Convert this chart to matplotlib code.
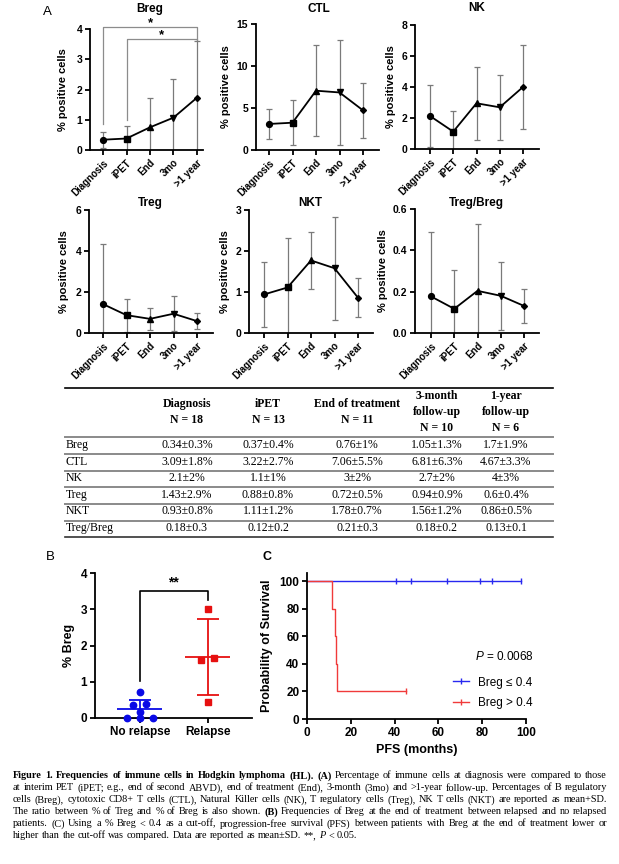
import numpy as np
import matplotlib
matplotlib.use('Agg')
import matplotlib.pyplot as plt
from matplotlib.lines import Line2D

plt.rcParams['font.family'] = ['Liberation Sans', 'DejaVu Sans']
plt.rcParams['mathtext.fontset'] = 'custom'
plt.rcParams['mathtext.it'] = 'Liberation Sans:italic'
plt.rcParams['mathtext.rm'] = 'Liberation Sans'

# ---------------- data ----------------
timepoints = ['Diagnosis', 'iPET', 'End', '3mo', '>1 year']

breg_mean = [0.34, 0.38, 0.75, 1.07, 1.73]
breg_sd = [0.26, 0.42, 0.98, 1.28, 1.88]
ctl_mean = [3.10, 3.25, 7.06, 6.85, 4.72]
ctl_sd = [1.82, 2.67, 5.45, 6.24, 3.30]
nk_mean = [2.13, 1.12, 2.95, 2.69, 4.00]
nk_sd = [1.97, 1.30, 2.35, 2.08, 2.74]
treg_mean = [1.41, 0.87, 0.69, 0.94, 0.58]
treg_sd = [2.92, 0.81, 0.53, 0.86, 0.39]
nkt_mean = [0.94, 1.11, 1.77, 1.58, 0.86]
nkt_sd = [0.80, 1.21, 0.70, 1.26, 0.48]
tb_mean = [0.177, 0.117, 0.204, 0.180, 0.131]
tb_sd = [0.31, 0.186, 0.323, 0.165, 0.081]

# table
col_headers = ['Diagnosis\nN = 18', 'iPET\nN = 13', 'End of treatment\nN = 11',
               '3-month\nfollow-up\nN = 10', '1-year\nfollow-up\nN = 6']
row_labels = ['Breg', 'CTL', 'NK', 'Treg', 'NKT', 'Treg/Breg']
table_cells = [
    ['0.34±0.3%', '0.37±0.4%', '0.76±1%', '1.05±1.3%', '1.7±1.9%'],
    ['3.09±1.8%', '3.22±2.7%', '7.06±5.5%', '6.81±6.3%', '4.67±3.3%'],
    ['2.1±2%', '1.1±1%', '3±2%', '2.7±2%', '4±3%'],
    ['1.43±2.9%', '0.88±0.8%', '0.72±0.5%', '0.94±0.9%', '0.6±0.4%'],
    ['0.93±0.8%', '1.11±1.2%', '1.78±0.7%', '1.56±1.2%', '0.86±0.5%'],
    ['0.18±0.3', '0.12±0.2', '0.21±0.3', '0.18±0.2', '0.13±0.1'],
]

# panel B
groups = ['No relapse', 'Relapse']
breg_norelapse = [0.72, 0.36, 0.40, 0.17, 0.0, 0.0, 0.0]
breg_relapse = [3.02, 1.66, 1.61, 0.43]

# panel C (PFS, months)
low_events = []
low_censored = [40.6, 47.5, 64.0, 79.1, 84.5, 97.9]
high_events = [11.3, 12.6, 13.1, 13.8]
high_censored = [45.2]
km_labels = ['Breg ≤ 0.4', 'Breg > 0.4']
p_value = '0.0068'

# ---------------- figure ----------------
W, H = 619, 864
fig = plt.figure(figsize=(W / 100, H / 100), dpi=100)


def fx(x):
    return x / W


def fy(y):
    return 1 - y / H


def px_axes(l, t, r, b):
    return fig.add_axes([l / W, 1 - b / H, (r - l) / W, (b - t) / H])


def style_axes(ax, size=7.5, lw=1.3):
    for s in ['top', 'right']:
        ax.spines[s].set_visible(False)
    for s in ['left', 'bottom']:
        ax.spines[s].set_linewidth(lw)
    ax.tick_params(width=lw, length=3.5, labelsize=size, pad=2)
    for lab in ax.get_xticklabels() + ax.get_yticklabels():
        lab.set_fontweight('bold')


# ---- panel A: line plots ----
a_data = [('Breg', breg_mean, breg_sd, [0, 1, 2, 3, 4]),
          ('CTL', ctl_mean, ctl_sd, [0, 5, 10, 15]),
          ('NK', nk_mean, nk_sd, [0, 2, 4, 6, 8]),
          ('Treg', treg_mean, treg_sd, [0, 2, 4, 6]),
          ('NKT', nkt_mean, nkt_sd, [0, 1, 2, 3]),
          ('Treg/Breg', tb_mean, tb_sd, [0.0, 0.2, 0.4, 0.6])]
# rect (l, t, r, b), first tick px, tick spacing, title pos, ylabel x
a_layout = [((90, 29, 203, 150), 103, 23.5, (150, 9), 63),
            ((256, 24, 379, 150), 269, 23.5, (319, 9), 226),
            ((415, 25, 539, 149), 430, 23.25, (477, 8), 391),
            ((89, 210, 213, 333), 103, 23.5, (150, 203), 64),
            ((249, 210, 373, 333), 264, 23.5, (310, 203), 225),
            ((415, 209, 539, 333), 431, 23.25, (476, 203), 383)]
markers = ['o', 's', '^', 'v', 'D']
msizes = [4.2, 4.2, 3.8, 3.8, 3.0]

a_axes = []
for (name, mean, sd, yt), (rect, t0, step, tpos, ylx) in zip(a_data, a_layout):
    l, t, r, b = rect
    ax = px_axes(*rect)
    x = np.arange(len(timepoints))
    ax.errorbar(x, mean, yerr=sd, fmt='none', ecolor='#7a7a7a',
                elinewidth=0.9, capsize=2.2, capthick=0.9)
    ax.plot(x, mean, color='black', lw=1.3)
    for xi, m, mk, ms in zip(x, mean, markers, msizes):
        ax.plot(xi, m, marker=mk, color='black', ms=ms, clip_on=False)
    ax.set_xlim((l - t0) / step, (r - t0) / step)
    ax.set_ylim(0, yt[-1])
    ax.set_yticks(yt)
    if name == 'Treg/Breg':
        ax.set_yticklabels(['%.1f' % v for v in yt])
    ax.set_xticks(x)
    ax.set_xticklabels(timepoints, rotation=45, ha='right',
                       rotation_mode='anchor')
    style_axes(ax)
    for lab in ax.get_xticklabels():
        lab.set_fontsize(7)
    ax.set_ylabel('% positive cells', fontsize=8, fontweight='bold')
    ax.yaxis.set_label_coords((ylx + 5 - l) / (r - l), 0.5)
    fig.text(fx(tpos[0]), fy(tpos[1]), name, ha='center', va='center',
             fontsize=8.5, fontweight='bold')
    a_axes.append(ax)

# significance brackets on Breg
ax = a_axes[0]
breg_sig = [(0, 4, 4.08, 0.85, 3.65), (1, 4, 3.68, 1.0, 3.62)]
for x1, x2, top, yl, yr in breg_sig:
    ax.plot([x1, x1, x2, x2], [yl, top, top, yr], color='#8c8c8c', lw=0.9,
            clip_on=False)
    ax.text((x1 + x2) / 2, top + 0.02, '*', ha='center', va='baseline',
            fontsize=9.5, fontweight='bold', clip_on=False)

fig.text(fx(47), fy(12), 'A', fontsize=9.5, va='center', ha='center')

# ---- table ----
serif = ['Liberation Serif', 'DejaVu Serif']
tab_l, tab_r = 65, 553
col_cx = [187, 268, 357, 437, 506]
row_cy = [445, 462, 478, 495, 511, 528]
for cx, hdr in zip(col_cx, col_headers):
    fig.text(fx(cx), fy(412), hdr, ha='center', va='center', family=serif,
             fontsize=8.5, fontweight='bold', linespacing=1.42,
             multialignment='center')
for cy, lab, cells in zip(row_cy, row_labels, table_cells):
    fig.text(fx(tab_l + 1), fy(cy), lab, ha='left', va='center',
             family=serif, fontsize=8.5)
    for cx, c in zip(col_cx, cells):
        fig.text(fx(cx), fy(cy), c, ha='center', va='center', family=serif,
                 fontsize=8.5)
for yy, col, lw in [(388, 'black', 1.2), (437, '#8a8a8a', 1.4),
                    (454, '#8a8a8a', 1.4), (471, '#8a8a8a', 1.4),
                    (487, '#8a8a8a', 1.4), (504, '#8a8a8a', 1.4),
                    (521, '#8a8a8a', 1.4), (537, '#333333', 1.2)]:
    fig.add_artist(Line2D([fx(tab_l), fx(tab_r)], [fy(yy), fy(yy)],
                          color=col, lw=lw))

# ---- panel B ----
blue = '#0a0ae6'
red = '#e61010'


def swarm(vals, tol=0.1, step=0.19):
    vals = np.asarray(vals, dtype=float)
    order = np.argsort(vals, kind='stable')
    offs = np.zeros(len(vals))
    grp = [order[0]]
    for a, bi in zip(order[:-1], order[1:]):
        if vals[bi] - vals[a] <= tol:
            grp.append(bi)
        else:
            n = len(grp)
            offs[grp] = (np.arange(n) - (n - 1) / 2) * step
            grp = [bi]
    n = len(grp)
    offs[grp] = (np.arange(n) - (n - 1) / 2) * step
    return offs


axb = px_axes(95, 573, 252, 718)
for i, (vals, col, mk) in enumerate([(breg_norelapse, blue, 'o'),
                                     (breg_relapse, red, 's')]):
    offs = swarm(vals)
    axb.plot(i + offs, vals, ls='none', marker=mk, ms=4.6, color=col,
             clip_on=False, zorder=3)
    m = np.mean(vals)
    s = np.std(vals, ddof=1)
    axb.hlines(m, i - 0.33, i + 0.33, color=col, lw=1.3)
    axb.errorbar(i, m, yerr=s, fmt='none', ecolor=col, elinewidth=1.3,
                 capsize=8, capthick=1.3)
axb.set_xlim(-0.66, 1.65)
axb.set_ylim(0, 4)
axb.set_yticks([0, 1, 2, 3, 4])
axb.set_xticks([0, 1])
axb.set_xticklabels(groups)
style_axes(axb, size=8.5)
axb.set_ylabel('% Breg', fontsize=9, fontweight='bold')
axb.yaxis.set_label_coords((70 + 5 - 95) / (252 - 95), 0.5)
axb.plot([0, 0, 1, 1], [1.01, 3.49, 3.49, 3.26], color='black', lw=1.2)
axb.text(0.5, 3.55, '**', ha='center', va='bottom', fontsize=10,
         fontweight='bold')
fig.text(fx(50), fy(557), 'B', fontsize=9.5, va='center', ha='center')


# ---- panel C ----
def km(events, censored):
    times = sorted([(t, 1) for t in events] + [(t, 0) for t in censored])
    n = len(times)
    s = 100.0
    xs, ys = [0.0], [100.0]
    cx, cy = [], []
    for t, e in times:
        if e:
            s = s * (n - 1) / n
            xs.append(t)
            ys.append(s)
        else:
            cx.append(t)
            cy.append(s)
        n -= 1
    xs.append(times[-1][0])
    ys.append(s)
    return xs, ys, cx, cy


axc = px_axes(307, 573, 526, 719)
km_blue = '#2828f0'
km_red = '#f03a3a'
handles = []
for ev, ce, col in [(low_events, low_censored, km_blue),
                    (high_events, high_censored, km_red)]:
    xs, ys, cx, cy = km(ev, ce)
    axc.step(xs, ys, where='post', color=col, lw=1.0, clip_on=False)
    axc.plot(cx, cy, ls='none', marker='|', ms=4, mew=1.0, color=col,
             clip_on=False)
    handles.append(Line2D([0], [0], color=col, lw=1.0, marker='|', ms=4,
                          mew=1.0))
axc.set_xlim(0, 100)
axc.set_ylim(0, 105.8)
axc.set_xticks([0, 20, 40, 60, 80, 100])
axc.set_yticks([0, 20, 40, 60, 80, 100])
style_axes(axc, size=8.5)
axc.set_ylabel('Probability of Survival', fontsize=9, fontweight='bold')
axc.yaxis.set_label_coords((268 + 5 - 307) / (526 - 307), 0.5)
axc.set_xlabel('PFS (months)', fontsize=9, fontweight='bold', labelpad=4)
axc.legend(handles, km_labels, loc='center left',
           bbox_to_anchor=(fx(453), fy(693)), bbox_transform=fig.transFigure,
           frameon=False, handlelength=1.35, handletextpad=0.8,
           labelspacing=0.75, borderpad=0, borderaxespad=0,
           prop={'size': 8.5})
fig.text(fx(475), fy(657), '$P$ = ' + p_value, fontsize=8.5, va='center',
         ha='left')
fig.text(fx(267), fy(557), 'C', fontsize=9, fontweight='bold', va='center',
         ha='center')

# ---- caption (justified) ----
caption_lines = [
    [('Figure 1. Frequencies of immune cells in Hodgkin lymphoma (HL).', 'b'),
     ('(A)', 'b'),
     ('Percentage of immune cells at diagnosis were compared to those', 'r')],
    [('at interim PET (iPET; e.g., end of second ABVD), end of treatment (End), '
      '3-month (3mo) and >1-year follow-up. Percentages of B regulatory', 'r')],
    [('cells (Breg), cytotoxic CD8+ T cells (CTL), Natural Killer cells (NK), '
      'T regulatory cells (Treg), NK T cells (NKT) are reported as mean+SD.',
      'r')],
    [('The ratio between % of Treg and % of Breg is also shown.', 'r'),
     ('(B)', 'b'),
     ('Frequencies of Breg at the end of treatment between relapsed and no '
      'relapsed', 'r')],
    [('patients. (C) Using a % Breg < 0.4 as a cut-off, progression-free '
      'survival (PFS) between patients with Breg at the end of treatment '
      'lower or', 'r')],
    [('higher than the cut-off was compared. Data are reported as mean±SD. **,',
      'r'), ('P', 'i'), ('< 0.05.', 'r')],
]
cap_y = [776, 788, 800, 812, 824, 836]
cap_l, cap_r = 13, 607
cap_fs = 7.4
renderer = fig.canvas.get_renderer()

t1 = fig.text(0, 0, 'aa', family=serif, fontsize=cap_fs)
t2 = fig.text(0, 0, 'a a', family=serif, fontsize=cap_fs)
space_w = t2.get_window_extent(renderer).width - t1.get_window_extent(renderer).width
t1.remove()
t2.remove()

for k, (tokens, yy) in enumerate(zip(caption_lines, cap_y)):
    objs = []
    for txt, st in tokens:
        for w in txt.split(' '):
            if not w:
                continue
            kw = dict(family=serif, fontsize=cap_fs, va='center', ha='left')
            if st == 'b':
                kw['fontweight'] = 'bold'
            if st == 'i':
                kw['fontstyle'] = 'italic'
            objs.append(fig.text(0, fy(yy), w, **kw))
    widths = [o.get_window_extent(renderer).width for o in objs]
    if k < len(caption_lines) - 1:
        gap = (cap_r - cap_l - sum(widths)) / (len(objs) - 1)
    else:
        gap = space_w
    xx = cap_l
    for o, w in zip(objs, widths):
        o.set_x(fx(xx))
        xx += w + gap

fig.savefig('out.png', dpi=100)
